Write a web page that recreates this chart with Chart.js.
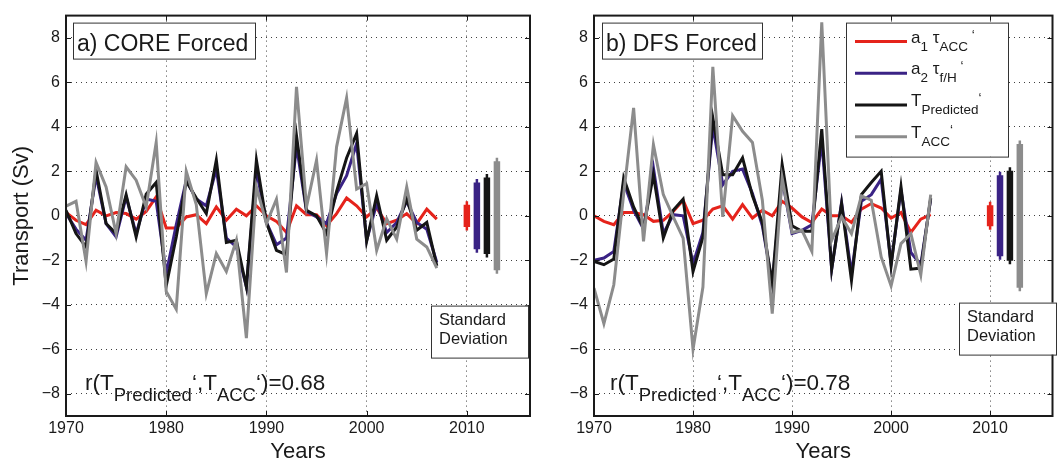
<!DOCTYPE html>
<html>
<head>
<meta charset="utf-8">
<script src="https://cdn.jsdelivr.net/npm/chart.js@4.4.0/dist/chart.umd.min.js"></script>
<style>
  body { margin: 0; background: #fff; width: 1059px; height: 465px; overflow: hidden; position: relative; }
  canvas { position: absolute; top: 0; }
  #core { left: 0; }
  #dfs { left: 545px; }
</style>
</head>
<body>
<canvas id="core" width="545" height="465"></canvas>
<canvas id="dfs" width="514" height="465"></canvas>
<script>
// ---- data ----
const xTicks = [1970, 1980, 1990, 2000, 2010];
const yTicks = [-8, -6, -4, -2, 0, 2, 4, 6, 8];
const sdYears = [2010, 2011, 2012, 2013];   // where the std-dev bars sit

// a) CORE forced, 1970-2007
const coreYears = [1970, 1971, 1972, 1973, 1974, 1975, 1976, 1977, 1978, 1979,
  1980, 1981, 1982, 1983, 1984, 1985, 1986, 1987, 1988, 1989,
  1990, 1991, 1992, 1993, 1994, 1995, 1996, 1997, 1998, 1999,
  2000, 2001, 2002, 2003, 2004, 2005, 2006, 2007];
const coreA1Tau = [0.15, -0.2, -0.4, 0.25, 0.0, 0.15, 0.1, -0.15, 0.2, 0.85,
  -0.55, -0.55, -0.05, 0.05, -0.35, 0.4, -0.2, 0.3, 0.0, 0.45,
  0.0, -0.25, -0.75, 0.45, 0.05, 0.05, -0.45, 0.1, 0.8, 0.45,
  -0.05, 0.35, -0.35, -0.2, 0.1, -0.35, 0.3, -0.15];
const coreA2Tau = [0.1, -0.6, -1.1, 1.8, -0.35, -0.95, 0.85, -0.8, 0.75, 0.65,
  -2.6, -0.4, 1.6, 0.75, 0.45, 2.1, -1.0, -1.4, -3.2, 2.05,
  -0.3, -1.3, -1.0, 3.15, 0.2, -0.05, -0.35, 1.0, 1.8, 3.25,
  -1.1, 0.55, -0.75, -0.3, 0.65, -0.3, -0.6, -2.1];
const corePredicted = [0.25, -0.8, -1.4, 2.05, -0.35, -0.8, 0.95, -0.95, 0.97, 1.5,
  -3.15, -0.95, 1.55, 0.8, 0.1, 2.5, -1.2, -1.1, -3.2, 2.5,
  -0.3, -1.55, -1.75, 3.6, 0.25, 0.0, -0.8, 1.1, 2.6, 3.7,
  -1.15, 0.9, -1.1, -0.5, 0.75, -0.65, -0.3, -2.25];
const coreAcc = [0.43, 0.65, -2.05, 2.4, 1.3, -0.8, 2.2, 1.6, 0.4, 3.3,
  -3.4, -4.2, 2.0, 0.5, -3.5, -1.7, -2.5, -1.1, -5.5, 1.3,
  -0.35, 0.75, -2.55, 5.8, 0.4, 2.5, -1.7, 3.1, 5.3, 1.2,
  1.45, -1.55, -0.13, -1.05, 1.3, -1.05, -1.4, -2.35];
const coreSd = [0.5, 1.5, 1.72, 2.45];

// b) DFS forced, 1970-2004
const dfsYears = [1970, 1971, 1972, 1973, 1974, 1975, 1976, 1977, 1978, 1979,
  1980, 1981, 1982, 1983, 1984, 1985, 1986, 1987, 1988, 1989,
  1990, 1991, 1992, 1993, 1994, 1995, 1996, 1997, 1998, 1999,
  2000, 2001, 2002, 2003, 2004];
const dfsA1Tau = [0.0, -0.25, -0.4, 0.15, 0.15, 0.05, -0.25, -0.2, 0.2, 0.7,
  -0.35, -0.2, 0.3, 0.45, -0.15, 0.5, -0.1, 0.25, 0.0, 0.65,
  0.35, -0.05, -0.3, 0.3, 0.0, 0.0, -0.3, 0.3, 0.55, 0.35,
  -0.1, 0.15, -0.75, -0.15, 0.05];
const dfsA2Tau = [-2.0, -1.9, -1.6, 1.5, 0.25, -0.6, 2.15, -0.8, 0.05, 0.0,
  -2.15, -0.75, 4.05, 1.4, 2.0, 2.1, 1.0, -0.45, -3.05, 1.65,
  -0.8, -0.65, -0.4, 3.4, -2.4, 0.6, -2.6, 0.65, 0.95, 1.65,
  -2.15, 1.15, -1.65, -2.2, 0.75];
const dfsPredicted = [-2.05, -2.2, -1.95, 1.7, 0.4, -0.55, 1.85, -1.0, 0.25, 0.75,
  -2.5, -0.95, 4.4, 1.85, 1.85, 2.6, 0.9, -0.3, -3.05, 2.3,
  -0.45, -0.7, -0.7, 3.9, -2.4, 0.55, -2.9, 0.95, 1.5, 2.0,
  -2.25, 1.3, -2.4, -2.35, 0.8];
const dfsAcc = [-3.25, -4.85, -3.1, 1.0, 4.85, -1.15, 3.2, 0.95, -0.05, -1.0,
  -6.0, -3.2, 6.7, -0.05, 4.5, 3.8, 3.3, 0.7, -4.4, 1.7,
  -0.75, -0.65, -1.6, 8.7, -1.1, -0.05, -0.8, 0.9, 0.7, -1.85,
  -3.15, -1.25, -0.8, -2.65, 0.95];
const dfsSd = [0.47, 1.82, 2.02, 3.23];

// ---- styling ----
const FONT = '"Liberation Sans", Arial, Helvetica, sans-serif';
const INK = '#1a1a1a';
const colors = ['#e5231b', '#3a2385', '#151515', '#8c8c8c']; // red, blue, black, gray
Chart.defaults.font.family = FONT;
Chart.defaults.color = INK;

function font(size) { return size + 'px ' + FONT; }

// draws text pieces one after the other, some shifted down (subscripts)
function drawRich(ctx, x, y, parts) {
  parts.forEach(function (p) {
    ctx.font = font(p.size);
    ctx.fillText(p.t, x, y + (p.dy || 0));
    x += ctx.measureText(p.t).width;
  });
}

function boxAt(ctx, x, y, w, h) {
  ctx.fillStyle = '#fff';
  ctx.fillRect(x, y, w, h);
  ctx.strokeStyle = '#333';
  ctx.lineWidth = 1;
  ctx.strokeRect(x + 0.5, y + 0.5, w, h);
  ctx.fillStyle = INK;
}

var decorPlugin = {
  id: 'decor',
  afterDraw: function (chart) {
    var ctx = chart.ctx, a = chart.chartArea, cfg = chart.options.plugins.decor;
    var xs = chart.scales.x, ys = chart.scales.y;
    ctx.save();

    // matlab style box with inward ticks
    ctx.strokeStyle = INK;
    ctx.lineWidth = 1;
    ctx.beginPath();
    xs.ticks.forEach(function (t) {
      var px = Math.round(xs.getPixelForValue(t.value)) + 0.5;
      ctx.moveTo(px, a.bottom); ctx.lineTo(px, a.bottom - 5);
      ctx.moveTo(px, a.top); ctx.lineTo(px, a.top + 5);
    });
    ys.ticks.forEach(function (t) {
      var py = Math.round(ys.getPixelForValue(t.value)) + 0.5;
      ctx.moveTo(a.left, py); ctx.lineTo(a.left + 5, py);
      ctx.moveTo(a.right, py); ctx.lineTo(a.right - 5, py);
    });
    ctx.stroke();
    ctx.lineWidth = 2;
    ctx.strokeRect(a.left, a.top, a.right - a.left, a.bottom - a.top);

    ctx.textBaseline = 'alphabetic';
    ctx.textAlign = 'left';

    // panel title
    boxAt(ctx, a.left + cfg.titleBox[0], a.top + 7, cfg.titleBox[1], 36);
    ctx.font = font(23);
    ctx.fillText(cfg.title, a.left + cfg.titleBox[0] + 4, a.top + 35);

    // correlation text
    drawRich(ctx, a.left + cfg.rX, a.top + 374, [
      {t: 'r(T', size: 22.5},
      {t: 'Predicted', size: 18.5, dy: 11},
      {t: '\u2018,T', size: 22.5},
      {t: 'ACC', size: 18.5, dy: 11},
      {t: '\u2018)=' + cfg.r, size: 22.5}
    ]);

    // standard deviation label
    boxAt(ctx, a.left + 365, a.top + cfg.sdTop, 97, 52);
    ctx.font = font(16.5);
    ctx.fillText('Standard', a.left + 373, a.top + cfg.sdTop + 19);
    ctx.fillText('Deviation', a.left + 373, a.top + cfg.sdTop + 38);

    // legend (right panel only)
    if (cfg.legend) {
      var lx = a.left + 252, ly = a.top + 7;
      boxAt(ctx, lx, ly, 162, 134);
      var rows = [
        [{t: 'a', size: 17}, {t: '1', size: 13.5, dy: 8}, {t: ' \u03c4', size: 17}, {t: 'ACC', size: 13.5, dy: 8}, {t: ' \u2018', size: 13.5, dy: -4}],
        [{t: 'a', size: 17}, {t: '2', size: 13.5, dy: 8}, {t: ' \u03c4', size: 17}, {t: 'f/H', size: 13.5, dy: 8}, {t: ' \u2018', size: 13.5, dy: -4}],
        [{t: 'T', size: 17}, {t: 'Predicted', size: 13.5, dy: 8}, {t: '\u2018', size: 13.5, dy: -4}],
        [{t: 'T', size: 17}, {t: 'ACC', size: 13.5, dy: 8}, {t: '\u2018', size: 13.5, dy: -4}]
      ];
      rows.forEach(function (row, i) {
        var yy = ly + 19 + i * 31.7;
        ctx.strokeStyle = colors[i];
        ctx.lineWidth = 3;
        ctx.beginPath();
        ctx.moveTo(lx + 9, yy); ctx.lineTo(lx + 61, yy);
        ctx.stroke();
        ctx.fillStyle = INK;
        drawRich(ctx, lx + 65, yy + 1, row);
      });
    }
    ctx.restore();
  }
};

function makePanel(id, years, series, sd, cfg) {
  var datasets = [];
  var order = [4, 3, 2, 1]; // gray on top
  series.forEach(function (vals, i) {
    datasets.push({
      data: vals.map(function (v, k) { return {x: years[k], y: v}; }),
      borderColor: colors[i],
      borderWidth: 3,
      pointRadius: 0,
      tension: 0,
      order: order[i]
    });
  });
  sd.forEach(function (s, i) {
    datasets.push({
      data: [{x: sdYears[i], y: -s}, {x: sdYears[i], y: s}],
      borderColor: colors[i],
      borderWidth: 6.5,
      borderCapStyle: 'butt',
      pointStyle: 'line',
      pointRotation: 90,
      pointRadius: 3.5,
      pointBorderWidth: 2.5,
      pointBorderColor: colors[i],
      order: 5
    });
  });

  var gridCol = 'rgba(30,30,30,0.85)';
  return new Chart(document.getElementById(id), {
    type: 'line',
    data: {datasets: datasets},
    options: {
      responsive: false,
      animation: false,
      events: [],
      devicePixelRatio: 1,
      layout: {padding: {left: 0, top: 7, right: cfg.rightPad, bottom: 0}},
      plugins: {
        legend: {display: false},
        tooltip: {enabled: false},
        decor: cfg
      },
      scales: {
        x: {
          type: 'linear',
          min: 1970,
          max: 2016.3,
          afterBuildTicks: function (s) { s.ticks = xTicks.map(function (v) { return {value: v}; }); },
          afterFit: function (s) { s.height = 49; },
          grid: {color: gridCol, lineWidth: 1, drawTicks: false},
          border: {display: false, dash: [1, 4]},
          ticks: {
            font: {size: 16}, color: INK, padding: 3, maxRotation: 0, autoSkip: false,
            callback: function (v) { return String(v); }
          },
          title: {display: true, text: 'Years', font: {size: 22}, color: INK, padding: {top: 0, bottom: 0}}
        },
        y: {
          type: 'linear',
          min: -9,
          max: 9,
          afterBuildTicks: function (s) { s.ticks = yTicks.map(function (v) { return {value: v}; }); },
          afterFit: function (s) { s.width = cfg.yWidth; },
          grid: {color: gridCol, lineWidth: 1, drawTicks: false},
          border: {display: false, dash: [1, 4]},
          ticks: {
            font: {size: 16}, color: INK, padding: 6,
            callback: function (v) { return v < 0 ? '\u2212' + Math.abs(v) : String(v); }
          },
          title: {display: cfg.yTitle, text: 'Transport (Sv)', font: {size: 22}, color: INK, padding: {top: 9, bottom: 0}}
        }
      }
    },
    plugins: [decorPlugin]
  });
}

makePanel('core', coreYears, [coreA1Tau, coreA2Tau, corePredicted, coreAcc], coreSd, {
  yWidth: 66, rightPad: 15, yTitle: true, title: 'a) CORE Forced', titleBox: [7, 182],
  r: '0.68', rX: 19, sdTop: 290, legend: false
});
makePanel('dfs', dfsYears, [dfsA1Tau, dfsA2Tau, dfsPredicted, dfsAcc], dfsSd, {
  yWidth: 49, rightPad: 1, yTitle: false, title: 'b) DFS Forced', titleBox: [8, 160],
  r: '0.78', rX: 16, sdTop: 287, legend: true
});
</script>
</body>
</html>
